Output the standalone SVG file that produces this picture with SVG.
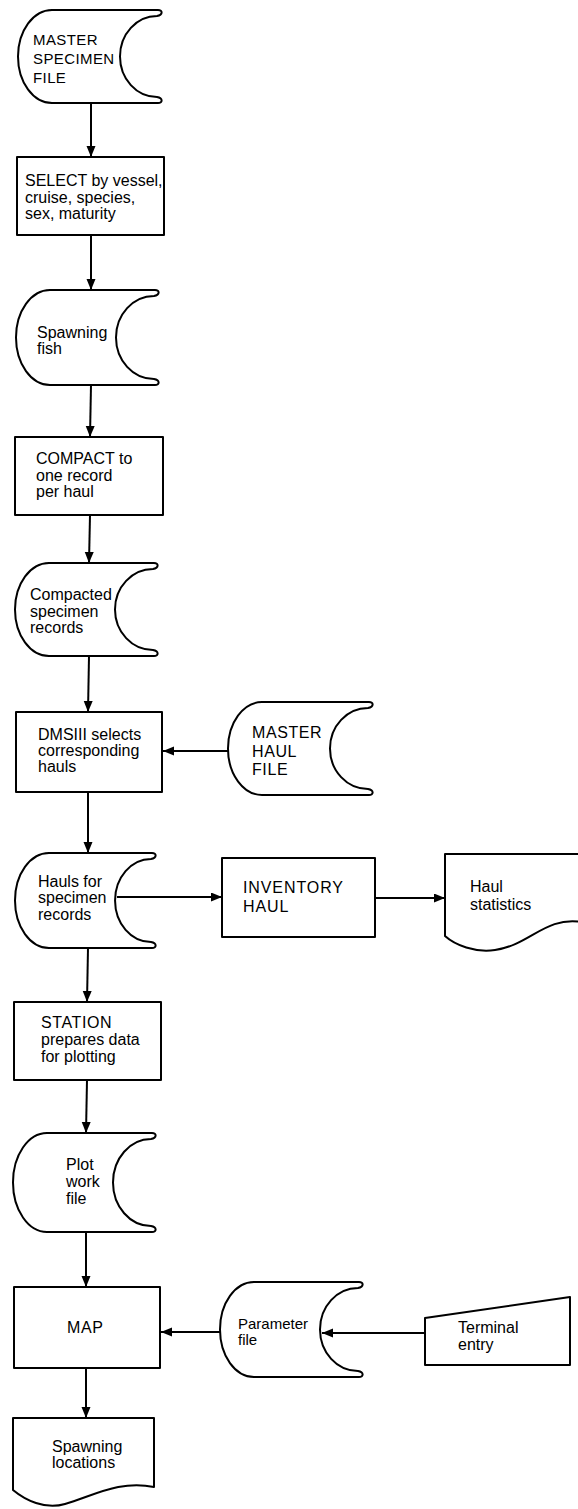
<svg xmlns="http://www.w3.org/2000/svg" width="578" height="1509" viewBox="0 0 578 1509">
<defs>
<style>
.s{fill:#fff;stroke:#000;stroke-width:2;stroke-linejoin:round}
.c{fill:none;stroke:#000;stroke-width:2}
text{font-family:"Liberation Sans",Arial,sans-serif;font-size:16px;fill:#000}
.cap{letter-spacing:0.6px}
.msf{font-size:15px;letter-spacing:0.4px}
</style>
<marker id="ah" markerUnits="userSpaceOnUse" markerWidth="12" markerHeight="10" refX="11" refY="4.5" orient="auto">
<path d="M0,0 L11,4.5 L0,9 Z" fill="#000"/>
</marker>
</defs>
<rect width="578" height="1509" fill="#fff"/>
<g id="connectors" class="c">
<line x1="91" y1="103" x2="91" y2="157" marker-end="url(#ah)"/>
<line x1="91" y1="235" x2="91" y2="290" marker-end="url(#ah)"/>
<line x1="91" y1="385" x2="90" y2="437" marker-end="url(#ah)"/>
<line x1="90" y1="515" x2="89" y2="563" marker-end="url(#ah)"/>
<line x1="89" y1="656" x2="88" y2="712" marker-end="url(#ah)"/>
<line x1="229" y1="751" x2="163" y2="751" marker-end="url(#ah)"/>
<line x1="88" y1="792" x2="88" y2="853" marker-end="url(#ah)"/>
<line x1="117" y1="897" x2="222" y2="897" marker-end="url(#ah)"/>
<line x1="375" y1="898" x2="445" y2="898" marker-end="url(#ah)"/>
<line x1="88" y1="948" x2="87" y2="1002" marker-end="url(#ah)"/>
<line x1="87" y1="1080" x2="86" y2="1133" marker-end="url(#ah)"/>
<line x1="86" y1="1232" x2="86" y2="1287" marker-end="url(#ah)"/>
<line x1="220" y1="1332" x2="161" y2="1332" marker-end="url(#ah)"/>
<line x1="425" y1="1333" x2="322" y2="1333" marker-end="url(#ah)"/>
<line x1="86" y1="1368" x2="86" y2="1418" marker-end="url(#ah)"/>
</g>
<g id="master-specimen-file">
<path class="s" d="M52 10 H158 C163 10 163 15 157 16 A37 40.5 0 0 0 157 97 C163 98 163 103 158 103 H52 A34 46.5 0 0 1 52 10 Z"/>
<text class="msf" x="33" y="45">MASTER</text>
<text class="msf" x="33" y="64">SPECIMEN</text>
<text class="msf" x="33" y="83">FILE</text>
</g>
<g id="select">
<rect class="s" x="17" y="157" width="147" height="78"/>
<text x="25" y="186">SELECT by vessel,</text>
<text x="25" y="203">cruise, species,</text>
<text x="25" y="219">sex, maturity</text>
</g>
<g id="spawning-fish">
<path class="s" d="M50 290 H155 C160 290 160 295 154 296 A38 41.5 0 0 0 154 379 C160 380 160 385 155 385 H50 A34 47.5 0 0 1 50 290 Z"/>
<text x="37" y="338">Spawning</text>
<text x="37" y="354">fish</text>
</g>
<g id="compact">
<rect class="s" x="15" y="437" width="148" height="78"/>
<text x="36" y="464">COMPACT to</text>
<text x="36" y="481">one record</text>
<text x="36" y="497">per haul</text>
</g>
<g id="compacted-specimen-records">
<path class="s" d="M49 563 H154 C159 563 159 568 153 569 A38 40.5 0 0 0 153 650 C159 651 159 656 154 656 H49 A34 46.5 0 0 1 49 563 Z"/>
<text x="30" y="600">Compacted</text>
<text x="30" y="617">specimen</text>
<text x="30" y="633">records</text>
</g>
<g id="dmsiii">
<rect class="s" x="16" y="712" width="146" height="80"/>
<text x="38" y="740">DMSIII selects</text>
<text x="38" y="756">corresponding</text>
<text x="38" y="772">hauls</text>
</g>
<g id="master-haul-file">
<path class="s" d="M262 702 H369 C374 702 374 707 368 708 A38 40.5 0 0 0 368 789 C374 790 374 795 369 795 H262 A34 46.5 0 0 1 262 702 Z"/>
<text class="cap" x="252" y="738">MASTER</text>
<text class="cap" x="252" y="757">HAUL</text>
<text class="cap" x="252" y="775">FILE</text>
</g>
<g id="hauls-for-specimen-records">
<path class="s" d="M49 853 H152 C157 853 157 858 151 859 A36 41.5 0 0 0 151 942 C157 943 157 948 152 948 H49 A34 47.5 0 0 1 49 853 Z"/>
<text x="38" y="887">Hauls for</text>
<text x="38" y="903">specimen</text>
<text x="38" y="920">records</text>
</g>
<g id="inventory-haul">
<rect class="s" x="222" y="858" width="153" height="79"/>
<text x="243" y="893" style="letter-spacing:0.9px">INVENTORY</text>
<text x="243" y="912" style="letter-spacing:0.9px">HAUL</text>
</g>
<g id="haul-statistics">
<path class="s" d="M445 854 H582 V922 C545 916 530 945 495 950 C475 953 455 945 445 936 Z"/>
<text x="470" y="892">Haul</text>
<text x="470" y="910">statistics</text>
</g>
<g id="station">
<rect class="s" x="14" y="1002" width="147" height="78"/>
<text class="cap" x="41" y="1028">STATION</text>
<text x="41" y="1045">prepares data</text>
<text x="41" y="1062">for plotting</text>
</g>
<g id="plot-work-file">
<path class="s" d="M47 1133 H152 C157 1133 157 1138 151 1139 A38 43.5 0 0 0 151 1226 C157 1227 157 1232 152 1232 H47 A34 49.5 0 0 1 47 1133 Z"/>
<text x="66" y="1170">Plot</text>
<text x="66" y="1187">work</text>
<text x="66" y="1204">file</text>
</g>
<g id="map">
<rect class="s" x="14" y="1287" width="146" height="81"/>
<text class="cap" x="67" y="1333">MAP</text>
</g>
<g id="parameter-file">
<path class="s" d="M254 1282 H359 C364 1282 364 1287 358 1288 A38 41.5 0 0 0 358 1371 C364 1372 364 1377 359 1377 H254 A34 47.5 0 0 1 254 1282 Z"/>
<text x="238" y="1329" style="font-size:15px">Parameter</text>
<text x="238" y="1345" style="font-size:15px">file</text>
</g>
<g id="terminal-entry">
<path class="s" d="M425 1318 L570 1297 V1365 H425 Z"/>
<text x="458" y="1333">Terminal</text>
<text x="458" y="1350">entry</text>
</g>
<g id="spawning-locations">
<path class="s" d="M13 1418 H154 V1487 C120 1480 95 1495 65 1504 C45 1510 25 1500 13 1490 Z"/>
<text x="52" y="1452">Spawning</text>
<text x="52" y="1468">locations</text>
</g>
</svg>
